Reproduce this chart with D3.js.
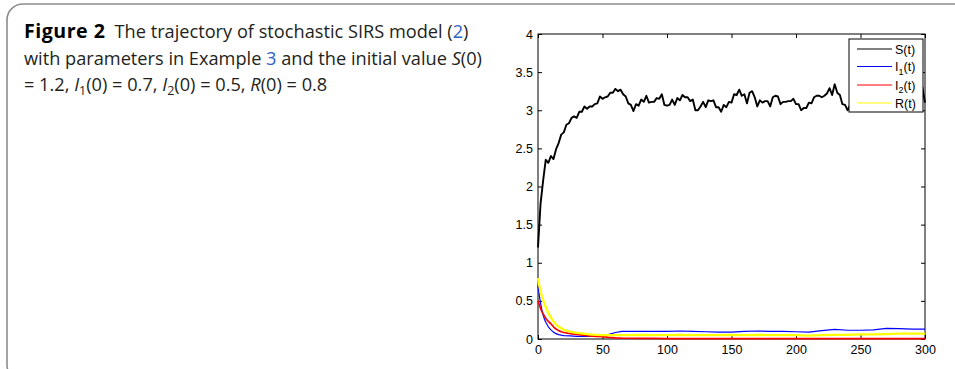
<!DOCTYPE html>
<html>
<head>
<meta charset="utf-8">
<script src="https://cdn.jsdelivr.net/npm/d3@7"></script>
<style>
  html, body { margin: 0; padding: 0; background: #fff; }
  svg { display: block; }
</style>
</head>
<body>
<div id="chart"></div>
<script>
const width = 955;
const height = 369;

const captionFont = '"Open Sans", "Noto Sans", sans-serif';
const axisFont = '"Liberation Sans", Arial, sans-serif';
const linkColor = '#2f62c4';

// S(t) sampled every 2 time units from t = 0
const sStep = 2;
const sValues = [
  1.20, 1.78, 2.08, 2.35, 2.31, 2.40, 2.36, 2.49, 2.57, 2.68,
  2.71, 2.81, 2.83, 2.90, 2.92, 2.90, 2.98, 2.98, 3.05, 3.02,
  3.05, 3.05, 3.08, 3.09, 3.18, 3.15, 3.17, 3.18, 3.23, 3.23,
  3.28, 3.25, 3.27, 3.21, 3.18, 3.09, 3.07, 2.99, 3.08, 3.06,
  3.14, 3.11, 3.19, 3.10, 3.11, 3.11, 3.16, 3.15, 3.21, 3.07,
  3.06, 3.07, 3.14, 3.07, 3.16, 3.13, 3.20, 3.17, 3.17, 3.12,
  3.14, 3.00, 3.00, 3.05, 3.11, 3.04, 3.13, 3.12, 3.13, 3.04,
  3.04, 2.98, 3.07, 3.04, 3.11, 3.10, 3.21, 3.20, 3.27, 3.19,
  3.21, 3.09, 3.23, 3.25, 3.17, 3.05, 3.13, 3.10, 3.12, 3.12,
  3.05, 3.17, 3.19, 3.18, 3.08, 3.11, 3.11, 3.12, 3.12, 3.15,
  3.08, 3.08, 3.00, 3.03, 3.03, 3.10, 3.09, 3.17, 3.19, 3.19,
  3.17, 3.19, 3.22, 3.29, 3.20, 3.34, 3.23, 3.20, 3.08, 3.07,
  3.00, 3.07, 3.06, 3.08, 3.07, 3.13, 3.06, 3.14, 3.12, 3.12,
  3.05, 3.11, 3.11, 3.17, 3.10, 3.12, 3.12, 3.18, 3.11, 3.13,
  3.06, 3.14, 3.13, 3.20, 3.12, 3.14, 3.14, 3.22, 3.22, 3.30,
  3.10
];

// smooth trajectories
const tSmooth = [0, 1, 2, 3, 4, 5, 6, 8, 10, 12, 14, 16, 18, 20, 25, 30, 35, 40, 45, 50,
  55, 60, 65, 70, 80, 90, 100, 110, 120, 130, 140, 150, 160, 170, 180, 190, 200,
  210, 220, 230, 240, 250, 260, 270, 280, 290, 300];
const i1Values = [0.70, 0.57, 0.47, 0.38, 0.31, 0.26, 0.22, 0.16, 0.12, 0.09, 0.07, 0.057, 0.05, 0.045,
  0.04, 0.035, 0.035, 0.035, 0.04, 0.045, 0.06, 0.085, 0.10, 0.10, 0.10, 0.10, 0.10, 0.105,
  0.10, 0.095, 0.09, 0.09, 0.10, 0.105, 0.10, 0.10, 0.095, 0.09, 0.11, 0.125, 0.115, 0.115,
  0.12, 0.14, 0.135, 0.13, 0.13];
const i2Values = [0.50, 0.45, 0.40, 0.36, 0.33, 0.30, 0.27, 0.23, 0.20, 0.16, 0.13, 0.11, 0.095, 0.085,
  0.07, 0.06, 0.05, 0.04, 0.035, 0.03, 0.022, 0.016, 0.012, 0.010, 0.008, 0.007, 0.006, 0.006,
  0.006, 0.005, 0.005, 0.005, 0.005, 0.005, 0.005, 0.005, 0.005, 0.005, 0.005, 0.005, 0.005,
  0.005, 0.005, 0.005, 0.005, 0.005, 0.005];
const rValues = [0.80, 0.70, 0.62, 0.56, 0.51, 0.46, 0.42, 0.34, 0.28, 0.23, 0.19, 0.16, 0.14, 0.12,
  0.095, 0.08, 0.07, 0.06, 0.055, 0.05, 0.05, 0.05, 0.05, 0.05, 0.055, 0.05, 0.05, 0.055,
  0.05, 0.05, 0.05, 0.055, 0.05, 0.055, 0.05, 0.05, 0.05, 0.045, 0.05, 0.055, 0.055, 0.06,
  0.06, 0.065, 0.07, 0.07, 0.07];

const xTicks = [0, 50, 100, 150, 200, 250, 300];
const yTicks = [0, 0.5, 1, 1.5, 2, 2.5, 3, 3.5, 4];
const yTickLabels = ['0', '0.5', '1', '1.5', '2', '2.5', '3', '3.5', '4'];

const seriesNames = ['S', 'I1', 'I2', 'R'];
const seriesColors = ['#000000', '#0000ff', '#ff0000', '#ffff00'];
const seriesWidths = [1.9, 1.2, 1.7, 2.3];

const plot = {left: 538, right: 925, top: 34, bottom: 339};

const svg = d3.select('#chart').append('svg')
  .attr('width', width)
  .attr('height', height);

// frame round the figure
svg.append('rect')
  .attr('x', 7)
  .attr('y', 4)
  .attr('width', 1000)
  .attr('height', 377)
  .attr('rx', 16)
  .attr('fill', 'none')
  .attr('stroke', '#8c8c8c')
  .attr('stroke-width', 1.6);

/* caption */
const caption = svg.append('text')
  .attr('font-family', captionFont)
  .attr('font-size', 18.2)
  .attr('fill', '#231f20');

function addLine(parts, y) {
  const line = caption.append('tspan').attr('x', 24).attr('y', y);
  parts.forEach(p => {
    const t = line.append('tspan').text(p.text);
    if (p.bold) t.attr('font-weight', 'bold').attr('fill', '#000')
      .attr('font-size', 19.6).attr('letter-spacing', 0.5);
    if (p.italic) t.attr('font-style', 'italic');
    if (p.link) t.attr('fill', linkColor);
    if (p.sub) t.attr('font-size', 12.5).attr('dy', 3.5);
    if (p.unsub) t.attr('dy', -3.5);
  });
}

addLine([
  {text: 'Figure 2', bold: true},
  {text: '\u2002The trajectory of stochastic SIRS model ('},
  {text: '2', link: true},
  {text: ')'}
], 38);
addLine([
  {text: 'with parameters in Example '},
  {text: '3', link: true},
  {text: ' and the initial value '},
  {text: 'S', italic: true},
  {text: '(0)'}
], 64.5);
addLine([
  {text: '= 1.2, '},
  {text: 'I', italic: true},
  {text: '1', sub: true},
  {text: '(0) = 0.7, ', unsub: true},
  {text: 'I', italic: true},
  {text: '2', sub: true},
  {text: '(0) = 0.5, ', unsub: true},
  {text: 'R', italic: true},
  {text: '(0) = 0.8'}
], 91);

/* scales */
const x = d3.scaleLinear().domain([0, 300]).range([plot.left, plot.right]);
const y = d3.scaleLinear().domain([0, 4]).range([plot.bottom, plot.top]);

const axes = svg.append('g');

axes.append('rect')
  .attr('x', plot.left)
  .attr('y', plot.top)
  .attr('width', plot.right - plot.left)
  .attr('height', plot.bottom - plot.top)
  .attr('fill', '#fff')
  .attr('stroke', '#000')
  .attr('stroke-width', 1);

function styleAxis(g) {
  g.attr('font-size', null).attr('font-family', null);
  g.select('.domain').remove();
  g.selectAll('line').attr('stroke', '#000').attr('stroke-width', 1);
  g.selectAll('text')
    .style('font-family', axisFont)
    .style('font-size', '12.5px')
    .attr('fill', '#000');
}

axes.append('g')
  .attr('transform', `translate(0, ${plot.bottom})`)
  .call(d3.axisBottom(x).tickValues(xTicks).tickSize(-4).tickPadding(6).tickFormat(d3.format('d')))
  .call(styleAxis);

axes.append('g')
  .attr('transform', `translate(0, ${plot.top})`)
  .call(d3.axisTop(x).tickValues(xTicks).tickSize(-4).tickFormat(''))
  .call(styleAxis);

axes.append('g')
  .attr('transform', `translate(${plot.left}, 0)`)
  .call(d3.axisLeft(y).tickValues(yTicks).tickSize(-4).tickPadding(5)
    .tickFormat((d, i) => yTickLabels[i]))
  .call(styleAxis);

axes.append('g')
  .attr('transform', `translate(${plot.right}, 0)`)
  .call(d3.axisRight(y).tickValues(yTicks).tickSize(-4).tickFormat(''))
  .call(styleAxis);

/* lines */
const line = d3.line()
  .x(d => x(d[0]))
  .y(d => y(d[1]));

const seriesData = [
  sValues.map((v, i) => [i * sStep, v]),
  tSmooth.map((t, i) => [t, i1Values[i]]),
  tSmooth.map((t, i) => [t, i2Values[i]]),
  tSmooth.map((t, i) => [t, rValues[i]])
];

const lines = svg.append('g');
seriesData.forEach((data, k) => {
  lines.append('path')
    .datum(data)
    .attr('fill', 'none')
    .attr('stroke', seriesColors[k])
    .attr('stroke-width', seriesWidths[k])
    .attr('stroke-linejoin', 'round')
    .attr('d', line);
});

/* legend */
const legend = svg.append('g').attr('transform', 'translate(849, 39)');

legend.append('rect')
  .attr('width', 74)
  .attr('height', 73)
  .attr('fill', '#fff')
  .attr('stroke', '#000')
  .attr('stroke-width', 1);

const legendRows = [10, 27.5, 46, 64];
seriesNames.forEach((name, k) => {
  const row = legend.append('g').attr('transform', `translate(0, ${legendRows[k]})`);
  row.append('line')
    .attr('x1', 8).attr('x2', 43)
    .attr('stroke', seriesColors[k])
    .attr('stroke-width', 1);
  const label = row.append('text')
    .attr('x', 46)
    .attr('y', 4.5)
    .attr('font-family', axisFont)
    .attr('font-size', 12.5)
    .attr('fill', '#000');
  if (name.length === 1) {
    label.text(name + '(t)');
  } else {
    label.append('tspan').text(name[0]);
    label.append('tspan').attr('font-size', 9).attr('dy', 3.5).text(name[1]);
    label.append('tspan').attr('dy', -3.5).text('(t)');
  }
});
</script>
</body>
</html>
